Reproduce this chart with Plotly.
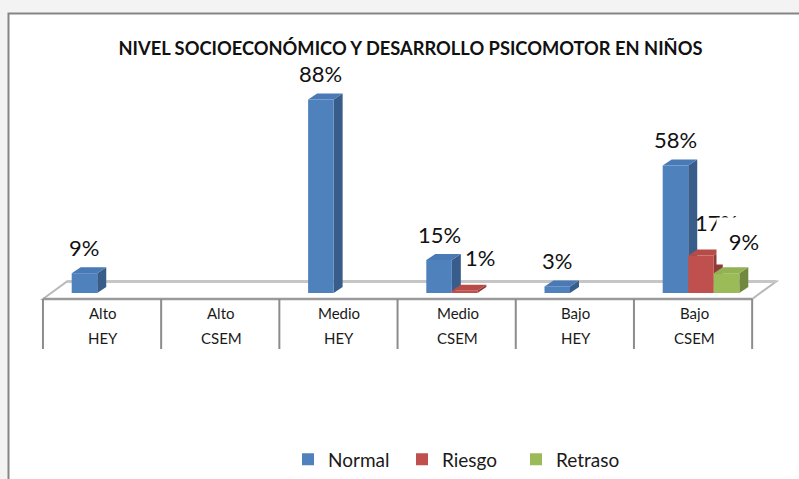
import plotly.graph_objects as go

# ---------------- data ----------------
nivel = ["Alto", "Alto", "Medio", "Medio", "Bajo", "Bajo"]
grupo = ["HEY", "CSEM", "HEY", "CSEM", "HEY", "CSEM"]
series_names = ["Normal", "Riesgo", "Retraso"]
normal = [9, None, 88, 15, 3, 58]
riesgo = [None, None, None, 1, None, 17]
retraso = [None, None, None, None, None, 9]
title_text = "NIVEL SOCIOECONÓMICO Y DESARROLLO PSICOMOTOR EN NIÑOS"

# ---------------- style ----------------
FONT = "Lato, 'Open Sans', sans-serif"
front_cols = ["#4F81BD", "#C0504D", "#9BBB59"]
side_cols = ["#385D8A", "#8E3A38", "#71893F"]
top_cols = ["#4A7AB5", "#B64B48", "#93B254"]

W, H = 799, 479
ML, MR, MT, MB = 40, 19, 60, 129
PX_PER_X = 118.2          # pixels per category
PX_PER_Y = 2.2            # pixels per percent
ZERO_PX_X = 110           # pixel of category 0 centre
ZERO_PX_Y = 293           # pixel of value 0
plot_w = W - ML - MR
plot_h = H - MT - MB
x_rng = [(ML - ZERO_PX_X) / PX_PER_X, (W - MR - ZERO_PX_X) / PX_PER_X]
y_rng = [-(MT + plot_h - ZERO_PX_Y) / PX_PER_Y, (ZERO_PX_Y - MT) / PX_PER_Y]

def ux(px):
    return px / PX_PER_X

def uy(px):
    return px / PX_PER_Y

bar_w = 0.216
bargap = 1 - 3 * bar_w
offsets = [-bar_w, 0.0, bar_w]
dX, dY = ux(9), uy(6)           # bar depth
front_shift = -ux(7)            # floor/table front relative to bars
floor_dx, floor_dy = ux(24), uy(17.5)
floor_front = -uy(6)
table_bottom = -uy(56)

xs = list(range(len(nivel)))
all_series = [normal, riesgo, retraso]

fig = go.Figure()
for k, (name, vals) in enumerate(zip(series_names, all_series)):
    fig.add_trace(go.Bar(
        x=xs, y=vals, name=name, offsetgroup=str(k),
        marker=dict(color=front_cols[k], line=dict(width=0)),
        hoverinfo="skip",
    ))

shapes = []
# outer chart box
shapes.append(dict(type="rect", xref="paper", yref="paper",
                   x0=(8.5 - ML) / plot_w, x1=(W + 10 - ML) / plot_w,
                   y0=-(MB + 10) / plot_h, y1=1 + (MT - 13.5) / plot_h,
                   fillcolor="white", line=dict(color="#858585", width=2),
                   layer="below"))

# floor
fl, fr = -0.5 + front_shift - 0.008, len(xs) - 0.5 + front_shift - 0.008
floor_path = (f"M{fl},{floor_front} L{fr},{floor_front} "
              f"L{fr + floor_dx},{floor_front + floor_dy} "
              f"L{fl + floor_dx},{floor_front + floor_dy} Z")
shapes.append(dict(type="path", xref="x", yref="y", path=floor_path,
                   fillcolor="white", line=dict(color="#b8b8b8", width=2),
                   layer="below"))
shapes.append(dict(type="line", xref="x", yref="y",
                   x0=fl, x1=fr, y0=floor_front, y1=floor_front,
                   line=dict(color="#9a9a9a", width=2.5), layer="below"))
shapes.append(dict(type="line", xref="x", yref="y",
                   x0=fl + floor_dx, x1=fr + floor_dx,
                   y0=floor_front + floor_dy, y1=floor_front + floor_dy,
                   line=dict(color="#c6c6c6", width=3), layer="below"))

# table dividers
for k in range(len(xs) + 1):
    xl = k - 0.5 + front_shift - 0.008
    shapes.append(dict(type="line", xref="x", yref="y",
                       x0=xl, x1=xl, y0=floor_front, y1=table_bottom,
                       line=dict(color="#8c8c8c", width=2), layer="below"))

# 3D faces for bars
for k, vals in enumerate(all_series):
    for i, v in zip(xs, vals):
        if v is None:
            continue
        left = i + offsets[k] - bar_w / 2
        right = left + bar_w
        side = (f"M{right},0 L{right},{v} L{right + dX},{v + dY} "
                f"L{right + dX},{dY} Z")
        top = (f"M{left},{v} L{right},{v} L{right + dX},{v + dY} "
               f"L{left + dX},{v + dY} Z")
        shapes.append(dict(type="path", xref="x", yref="y", path=side,
                           fillcolor=side_cols[k], line=dict(width=0),
                           layer="below"))
        shapes.append(dict(type="path", xref="x", yref="y", path=top,
                           fillcolor=top_cols[k], line=dict(width=0),
                           layer="below"))

annotations = []
# data labels
label_shift = [(0, 26), (15, 33), (17, 32)]
for k, vals in enumerate(all_series):
    for i, v in zip(xs, vals):
        if v is None:
            continue
        a = dict(x=i + offsets[k], y=v, xref="x", yref="y",
                 text=f"{v}%", showarrow=False,
                 xshift=label_shift[k][0], yshift=label_shift[k][1],
                 yanchor="middle",
                 font=dict(family=FONT, size=22, color="#111111"))
        if k == 2:
            a.update(bgcolor="white", width=52, height=44)
        annotations.append(a)

# table labels
for i in xs:
    annotations.append(dict(x=i + front_shift, y=-uy(20), xref="x", yref="y",
                            text=nivel[i], showarrow=False,
                            font=dict(family=FONT, size=15, color="#1a1a1a")))
    annotations.append(dict(x=i + front_shift, y=-uy(45), xref="x", yref="y",
                            text=grupo[i], showarrow=False,
                            font=dict(family=FONT, size=15, color="#1a1a1a")))

fig.update_layout(
    width=W, height=H,
    margin=dict(l=ML, r=MR, t=MT, b=MB, pad=0),
    paper_bgcolor="#f3f3f3", plot_bgcolor="rgba(0,0,0,0)",
    barmode="group", bargap=bargap, bargroupgap=0,
    title=dict(text=f"<b>{title_text}</b>", x=410.5 / W, xanchor="center",
               xref="container", y=1 - 48.5 / H, yanchor="middle",
               yref="container",
               font=dict(family=FONT, size=18.3, color="#111111")),
    xaxis=dict(range=x_rng, visible=False, fixedrange=True),
    yaxis=dict(range=y_rng, visible=False, fixedrange=True),
    showlegend=True,
    legend=dict(orientation="h", xref="container", yref="container",
                x=288 / W, xanchor="left", y=1 - 459.5 / H, yanchor="middle",
                entrywidth=69, entrywidthmode="pixels",
                font=dict(family=FONT, size=19, color="#1a1a1a"),
                bgcolor="rgba(0,0,0,0)", traceorder="normal"),
    shapes=shapes,
    annotations=annotations,
)

fig.write_html("out.html",
               config={"displayModeBar": False},
               post_script="document.body.style.margin='0';"
                           "document.body.style.overflow='hidden';")
